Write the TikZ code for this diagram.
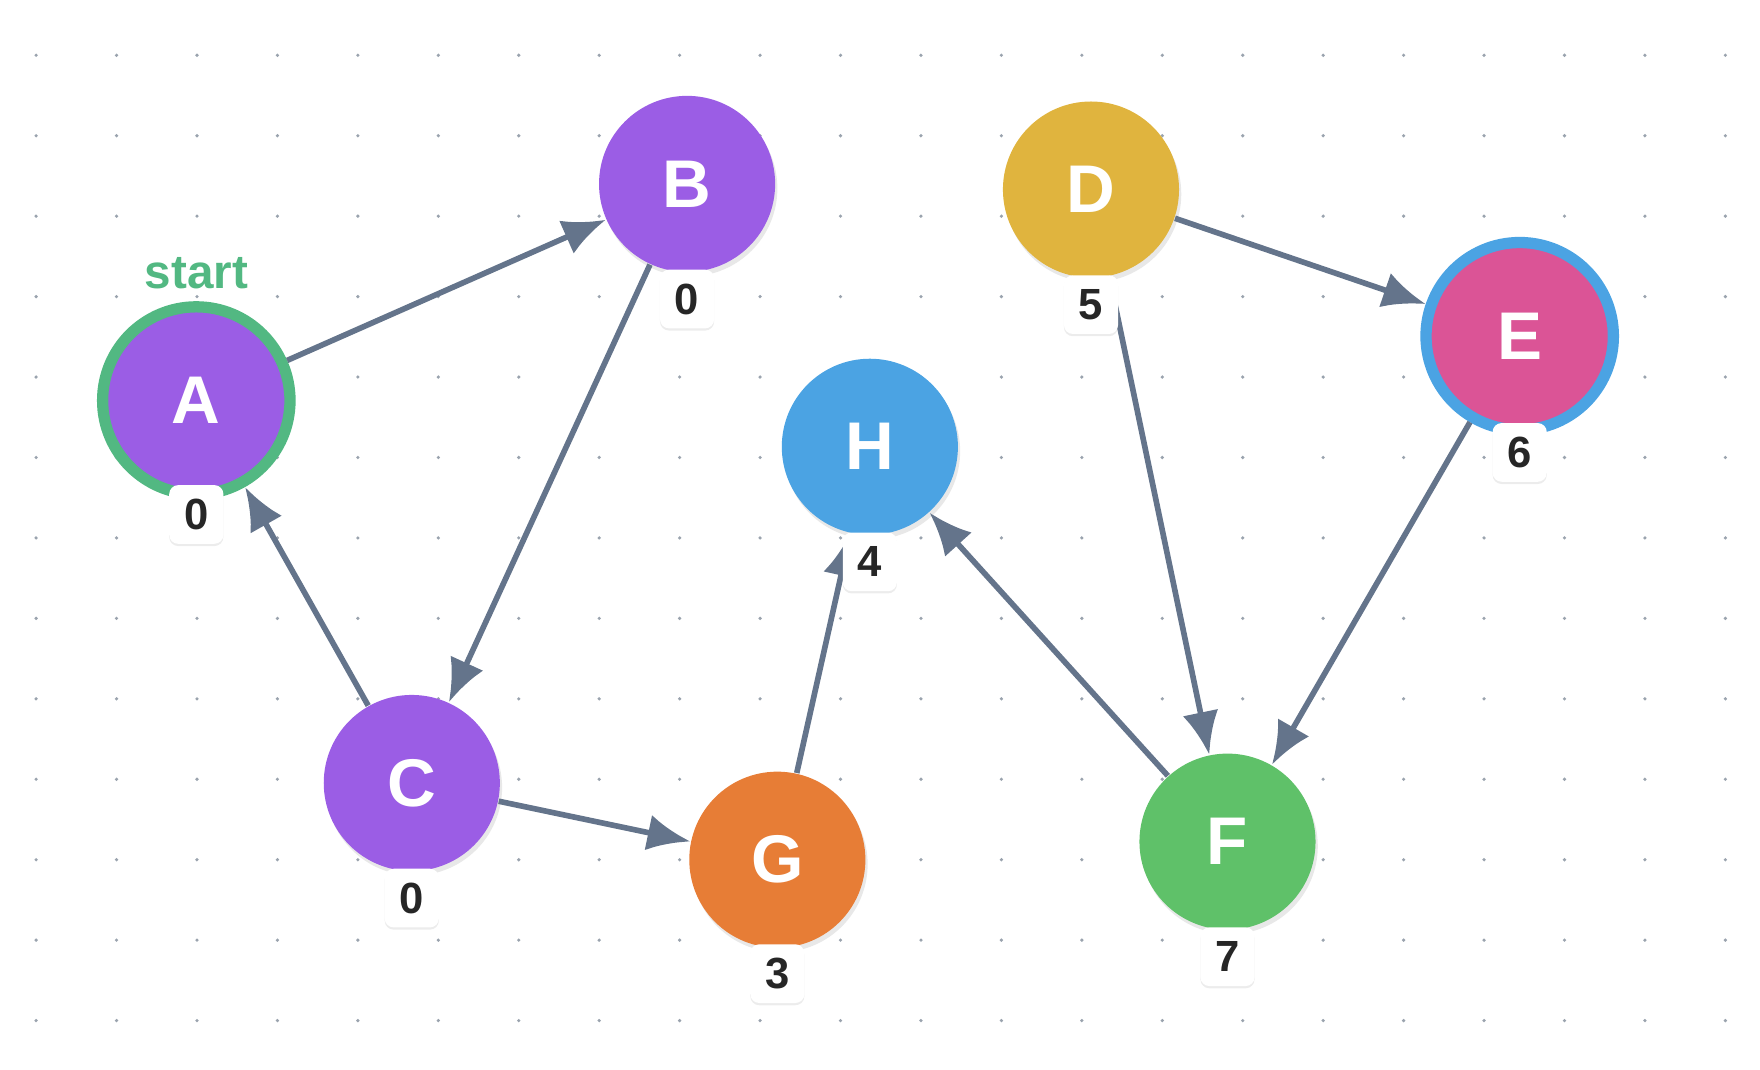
\documentclass[tikz,border=0pt]{standalone}
\usepackage{fontspec}
\setmainfont{Liberation Sans}
\usetikzlibrary{arrows.meta,shadows,positioning}
\definecolor{edgec}{HTML}{64748B}
\definecolor{purp}{HTML}{9B5DE5}
\definecolor{gold}{HTML}{E0B43E}
\definecolor{pinkc}{HTML}{DB5496}
\definecolor{bluec}{HTML}{4BA3E3}
\definecolor{orangec}{HTML}{E77D36}
\definecolor{greenc}{HTML}{5FC169}
\definecolor{startc}{HTML}{52B882}
\definecolor{dotc}{HTML}{9AA3AE}
\tikzset{
  vertex/.style={circle, minimum size=1.56cm, inner sep=0pt, font=\bfseries\fontsize{17}{17}\selectfont, text=white,
    drop shadow={shadow xshift=0.02cm, shadow yshift=-0.04cm, opacity=0.18}},
  badge/.style={rounded corners=0.08cm, fill=white, minimum width=0.48cm, minimum height=0.52cm, inner sep=0pt,
    font=\bfseries\fontsize{11}{11}\selectfont, text=black!85,
    drop shadow={shadow xshift=0cm, shadow yshift=-0.02cm, opacity=0.15}},
  edge/.style={draw=edgec, line width=0.05cm, -{Latex[length=0.38cm,width=0.32cm]}},
}
\begin{document}
\begin{tikzpicture}[x=0.01cm,y=-0.01cm]
\useasboundingbox (0,0) rectangle (1560,948);
% dotted grid
\foreach \i in {0,...,21}
\foreach \j in {0,...,12}
{
\fill[dotc] (32+71.3*\i, 49+71.3*\j) circle (0.016cm);
}
% vertices
\node[vertex, fill=purp, draw=startc, line width=0.1cm, minimum size=1.66cm] (A) at (174,355) {A};
\node[vertex, fill=purp] (B) at (609,163) {B};
\node[vertex, fill=purp] (C) at (365,694) {C};
\node[vertex, fill=gold] (D) at (967,168) {D};
\node[vertex, fill=pinkc, draw=bluec, line width=0.1cm, minimum size=1.66cm] (E) at (1347,298) {E};
\node[vertex, fill=greenc] (F) at (1088,746) {F};
\node[vertex, fill=orangec] (G) at (689,762) {G};
\node[vertex, fill=bluec] (H) at (771,396) {H};
\node[text=startc, font=\bfseries\fontsize{12}{12}\selectfont, above=-0.02cm of A] (start) {start};
% edges
\draw[edge] (A) -- (B);
\draw[edge] (B) -- (C);
\draw[edge] (C) -- (A);
\draw[edge] (C) -- (G);
\draw[edge] (G) -- (H);
\draw[edge] (F) -- (H);
\draw[edge] (D) -- (E);
\draw[edge] (D) -- (F);
\draw[edge] (E) -- (F);
% badges
\node[badge] (nA) at (174,456) {0};
\node[badge] (nB) at (609,265) {0};
\node[badge] (nC) at (365,796) {0};
\node[badge] (nD) at (967,270) {5};
\node[badge] (nE) at (1347,401) {6};
\node[badge] (nF) at (1088,848) {7};
\node[badge] (nG) at (689,863) {3};
\node[badge] (nH) at (771,498) {4};
\end{tikzpicture}
\end{document}
